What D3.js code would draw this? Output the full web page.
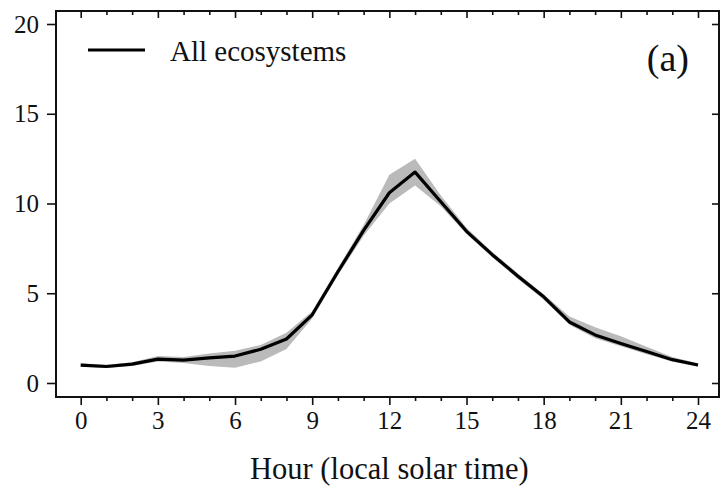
<!DOCTYPE html>
<html>
<head>
<meta charset="utf-8">
<script src="https://cdn.jsdelivr.net/npm/d3@7"></script>
<style>
  html, body { margin: 0; padding: 0; background: #fff; }
  svg { display: block; }
  text { font-family: "Liberation Serif", "Times New Roman", serif; fill: #111; }
</style>
</head>
<body>
<svg id="chart" width="720" height="488"></svg>
<script>
// Diurnal cycle, hourly mean with its spread band
const hours = [0,1,2,3,4,5,6,7,8,9,10,11,12,13,14,15,16,17,18,19,20,21,22,23,24];
const meanValues = [1.0,0.92,1.05,1.33,1.27,1.4,1.5,1.88,2.45,3.8,6.2,8.5,10.6,11.75,10.1,8.45,7.15,5.95,4.8,3.4,2.68,2.2,1.75,1.3,1.0];
const upperValues = [1.1,1.02,1.15,1.5,1.45,1.65,1.8,2.12,2.8,4.0,6.4,8.8,11.6,12.5,10.45,8.65,7.3,6.1,4.95,3.7,3.1,2.6,2.02,1.45,1.1];
const lowerValues = [0.9,0.84,0.95,1.2,1.12,0.95,0.85,1.2,1.9,3.6,6.0,8.2,10.0,11.0,9.85,8.3,7.0,5.8,4.65,3.25,2.5,2.05,1.6,1.2,0.9];
const xMajorTicks = [0,3,6,9,12,15,18,21,24];
const yTicks = [0,5,10,15,20];
const legendLabel = "All ecosystems";
const panelLabel = "(a)";
const xTitle = "Hour (local solar time)";

const svg = d3.select("#chart");
const frame = { left: 56, right: 719, top: 11, bottom: 397 };

const x = d3.scaleLinear().domain([0, 24]).range([80.7, 698]);
const y = d3.scaleLinear().domain([0, 20]).range([383, 24]);

const rows = hours.map((h, i) => ({ h, m: meanValues[i], lo: lowerValues[i], hi: upperValues[i] }));

// spread band
svg.append("path")
  .datum(rows)
  .attr("fill", "#bababa")
  .attr("d", d3.area().x(d => x(d.h)).y0(d => y(d.lo)).y1(d => y(d.hi)));

// mean line
svg.append("path")
  .datum(rows)
  .attr("fill", "none")
  .attr("stroke", "#000")
  .attr("stroke-width", 3.2)
  .attr("stroke-linejoin", "round")
  .attr("d", d3.line().x(d => x(d.h)).y(d => y(d.m)));

function styleAxis(g) {
  g.select(".domain").remove();
  g.selectAll("line").attr("stroke", "#111").attr("stroke-width", 1.6);
  g.selectAll("text").attr("font-size", 25).attr("fill", "#111");
}

// bottom axis: labelled majors + minor hourly ticks
svg.append("g")
  .attr("transform", `translate(0,${frame.bottom})`)
  .call(d3.axisBottom(x).tickValues(hours.filter(h => !xMajorTicks.includes(h))).tickSize(4).tickFormat(""))
  .call(styleAxis);
svg.append("g")
  .attr("transform", `translate(0,${frame.bottom})`)
  .call(d3.axisBottom(x).tickValues(xMajorTicks).tickSize(8).tickPadding(6).tickFormat(d3.format("d")))
  .call(styleAxis);

// top axis: inward ticks, no labels
svg.append("g")
  .attr("transform", `translate(0,${frame.top})`)
  .call(d3.axisBottom(x).tickValues(hours.filter(h => !xMajorTicks.includes(h))).tickSize(4).tickFormat(""))
  .call(styleAxis);
svg.append("g")
  .attr("transform", `translate(0,${frame.top})`)
  .call(d3.axisBottom(x).tickValues(xMajorTicks).tickSize(7).tickFormat(""))
  .call(styleAxis);

// left axis
svg.append("g")
  .attr("transform", `translate(${frame.left},0)`)
  .call(d3.axisLeft(y).tickValues(yTicks).tickSize(9).tickPadding(8).tickFormat(d3.format("d")))
  .call(styleAxis);

// right axis: inward ticks
svg.append("g")
  .attr("transform", `translate(${frame.right},0)`)
  .call(d3.axisLeft(y).tickValues(yTicks).tickSize(7).tickFormat(""))
  .call(styleAxis);

// plot frame
svg.append("rect")
  .attr("x", frame.left).attr("y", frame.top)
  .attr("width", frame.right - frame.left).attr("height", frame.bottom - frame.top)
  .attr("fill", "none").attr("stroke", "#111").attr("stroke-width", 2);

// legend
svg.append("line")
  .attr("x1", 88).attr("x2", 145).attr("y1", 50).attr("y2", 50)
  .attr("stroke", "#000").attr("stroke-width", 3.2);
svg.append("text")
  .attr("x", 170).attr("y", 61)
  .attr("font-size", 29)
  .text(legendLabel);

// panel label
svg.append("text")
  .attr("x", 689).attr("y", 71)
  .attr("text-anchor", "end")
  .attr("font-size", 38)
  .text(panelLabel);

// x-axis title
svg.append("text")
  .attr("x", (x(0) + x(24)) / 2).attr("y", 479)
  .attr("text-anchor", "middle")
  .attr("font-size", 30.5)
  .text(xTitle);
</script>
</body>
</html>
